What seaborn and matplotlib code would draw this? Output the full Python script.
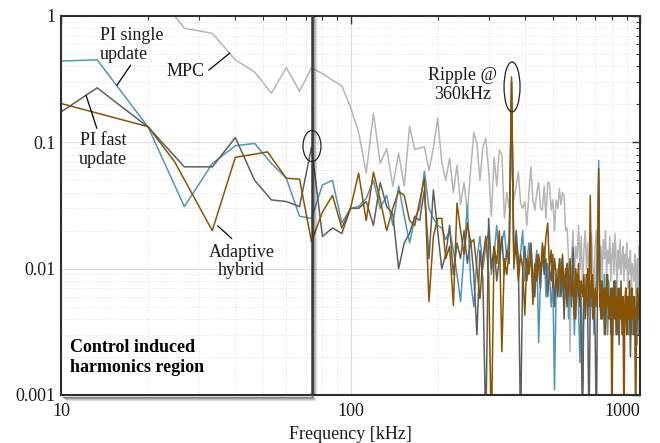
import numpy as np
import pandas as pd
import matplotlib
matplotlib.use("Agg")
import matplotlib.pyplot as plt
import seaborn as sns
from matplotlib.patches import Ellipse
from matplotlib.transforms import offset_copy
from matplotlib.ticker import LogLocator, NullFormatter

# ---------------- data ----------------
# low-frequency region (shared grid), kHz
freq_low = [10, 13.33, 20, 26.67, 33.33, 40, 46.67, 53.33, 60, 66.67, 73.33]
pi_single_low = [0.44, 0.45, 0.132, 0.031, 0.068, 0.094, 0.098, 0.068, 0.052, 0.026, 0.025]
pi_fast_low = [0.174, 0.27, 0.132, 0.064, 0.064, 0.109, 0.050, 0.035, 0.034, 0.031, 0.092]
mpc_low = [2.5, 2.2, 1.86, 0.80, 0.73, 0.45, 0.36, 0.245, 0.39, 0.254, 0.39]
hybrid_freq_low = [10, 20, 24.7, 33.3, 40, 51.7, 60, 66.7, 73.3]
hybrid_low = [0.203, 0.133, 0.070, 0.020, 0.076, 0.084, 0.052, 0.051, 0.0164]

# high-frequency region: harmonics k = 12 ... 150 of 6.667 kHz
harmonic_start = 12
harmonic_step = 20.0 / 3.0

pi_single_high = [
    0.046, 0.05, 0.023, 0.03, 0.031, 0.036, 0.05, 0.03, 0.038, 0.022,
    0.045, 0.026, 0.016, 0.025, 0.03, 0.059, 0.03, 0.025, 0.022, 0.021,
    0.017, 0.02, 0.014, 0.009, 0.0055, 0.013, 0.032, 0.008, 0.005, 0.012,
    0.018, 0.01, 0.015, 0.02, 0.009, 0.013, 0.022, 0.011, 0.016, 0.02,
    0.012, 0.018, 0.3, 0.012, 0.015, 0.009, 0.013, 0.02, 0.008, 0.011,
    0.016, 0.012, 0.007, 0.01, 0.014, 0.0026, 0.009, 0.012, 0.015, 0.006,
    0.011, 0.009, 0.005, 0.008, 0.0011, 0.007, 0.01, 0.006, 0.012, 0.008,
    0.005, 0.009, 0.011, 0.004, 0.008, 0.006, 0.01, 0.003, 0.007, 0.009,
    0.005, 0.0018, 0.006, 0.0012, 0.007, 0.005, 0.009, 0.004, 0.006, 0.008,
    0.005, 0.007, 0.003, 0.006, 0.008, 0.02, 0.072, 0.006, 0.004, 0.007,
    0.005, 0.009, 0.004, 0.006, 0.003, 0.008, 0.005, 0.004, 0.007, 0.003,
    0.006, 0.005, 0.008, 0.004, 0.006, 0.003, 0.007, 0.005, 0.004, 0.006,
    0.003, 0.005, 0.007, 0.004, 0.006, 0.003, 0.005, 0.004, 0.007, 0.003,
    0.005, 0.004, 0.006, 0.003, 0.005, 0.004, 0.006, 0.003, 0.01,
]

pi_fast_high = [
    0.018, 0.021, 0.019, 0.03, 0.03, 0.034, 0.022, 0.048, 0.031, 0.027,
    0.010, 0.016, 0.019, 0.026, 0.024, 0.042, 0.012, 0.042, 0.02, 0.010,
    0.013, 0.022, 0.009, 0.016, 0.012, 0.02, 0.011, 0.017, 0.009, 0.003,
    0.014, 0.008, 0.0005, 0.025, 0.01, 0.015, 0.008, 0.012, 0.018, 0.009,
    0.014, 0.011, 0.3, 0.01, 0.02, 0.012, 0.0005, 0.01, 0.015, 0.008,
    0.012, 0.016, 0.009, 0.006, 0.013, 0.01, 0.007, 0.014, 0.009, 0.012,
    0.006, 0.01, 0.008, 0.013, 0.005, 0.009, 0.007, 0.012, 0.006, 0.01,
    0.004, 0.008, 0.011, 0.006, 0.009, 0.005, 0.0147, 0.007, 0.004, 0.009,
    0.006, 0.008, 0.003, 0.0005, 0.007, 0.005, 0.009, 0.004, 0.0005, 0.006,
    0.008, 0.004, 0.006, 0.003, 0.0005, 0.007, 0.05, 0.005, 0.008, 0.004,
    0.006, 0.003, 0.007, 0.005, 0.009, 0.004, 0.006, 0.003, 0.007, 0.005,
    0.004, 0.008, 0.003, 0.006, 0.005, 0.0025, 0.007, 0.004, 0.006, 0.003,
    0.005, 0.004, 0.007, 0.003, 0.005, 0.004, 0.006, 0.002, 0.005, 0.004,
    0.006, 0.003, 0.005, 0.004, 0.0025, 0.005, 0.004, 0.006, 0.005,
]

mpc_high = [
    0.35, 0.31, 0.28, 0.19, 0.12, 0.057, 0.17, 0.068, 0.089, 0.045,
    0.082, 0.045, 0.134, 0.088, 0.09, 0.092, 0.06, 0.09, 0.155, 0.07,
    0.05, 0.075, 0.04, 0.066, 0.032, 0.048, 0.028, 0.06, 0.12, 0.098,
    0.05, 0.092, 0.108, 0.06, 0.026, 0.076, 0.045, 0.087, 0.08, 0.025,
    0.04, 0.03, 0.07, 0.035, 0.045, 0.058, 0.033, 0.03, 0.034, 0.022,
    0.04, 0.064, 0.035, 0.029, 0.04, 0.048, 0.03, 0.029, 0.045, 0.025,
    0.048, 0.048, 0.029, 0.035, 0.02, 0.035, 0.03, 0.043, 0.032, 0.04,
    0.038, 0.02, 0.021, 0.012, 0.0022, 0.012, 0.02, 0.009, 0.015, 0.012,
    0.022, 0.01, 0.018, 0.007, 0.014, 0.02, 0.01, 0.016, 0.008, 0.013,
    0.019, 0.011, 0.006, 0.015, 0.02, 0.012, 0.025, 0.01, 0.015, 0.008,
    0.017, 0.012, 0.02, 0.009, 0.014, 0.011, 0.018, 0.008, 0.013, 0.016,
    0.009, 0.019, 0.012, 0.007, 0.014, 0.01, 0.017, 0.009, 0.012, 0.015,
    0.008, 0.013, 0.01, 0.016, 0.007, 0.012, 0.009, 0.014, 0.006, 0.011,
    0.01, 0.008, 0.013, 0.006, 0.01, 0.012, 0.007, 0.015, 0.012,
]

hybrid_high = [
    0.028, 0.038, 0.021, 0.03, 0.057, 0.024, 0.058, 0.035, 0.020, 0.03,
    0.041, 0.038, 0.024, 0.022, 0.034, 0.052, 0.0055, 0.018, 0.025, 0.025,
    0.012, 0.015, 0.0051, 0.033, 0.02, 0.013, 0.023, 0.016, 0.017, 0.01,
    0.0058, 0.012, 0.018, 0.009, 0.0005, 0.015, 0.011, 0.02, 0.0022, 0.012,
    0.009, 0.014, 0.33, 0.011, 0.016, 0.008, 0.013, 0.01, 0.0043, 0.012,
    0.009, 0.014, 0.0052, 0.011, 0.008, 0.013, 0.009, 0.016, 0.011, 0.018,
    0.023, 0.01, 0.014, 0.007, 0.012, 0.009, 0.006, 0.011, 0.008, 0.013,
    0.007, 0.01, 0.005, 0.009, 0.012, 0.006, 0.008, 0.004, 0.01, 0.007,
    0.011, 0.005, 0.008, 0.006, 0.009, 0.004, 0.007, 0.01, 0.005, 0.038,
    0.006, 0.009, 0.004, 0.007, 0.005, 0.008, 0.062, 0.006, 0.004, 0.008,
    0.005, 0.007, 0.003, 0.009, 0.005, 0.006, 0.004, 0.007, 0.0005, 0.006,
    0.008, 0.004, 0.006, 0.003, 0.007, 0.005, 0.004, 0.008, 0.003, 0.006,
    0.0005, 0.005, 0.007, 0.003, 0.006, 0.004, 0.008, 0.003, 0.005, 0.007,
    0.004, 0.006, 0.003, 0.0005, 0.005, 0.007, 0.004, 0.006, 0.008,
]

series_names = ["MPC", "PI single update", "PI fast update", "Adaptive hybrid"]
series_colors = ["#b5b5b5", "#4f97ba", "#5e5e5e", "#8a5300"]


def high_freqs(vals):
    return list(harmonic_step * np.arange(harmonic_start, harmonic_start + len(vals)))


rows = []
for name, fl, lo, hi in [
    ("MPC", freq_low, mpc_low, mpc_high),
    ("PI single update", freq_low, pi_single_low, pi_single_high),
    ("PI fast update", freq_low, pi_fast_low, pi_fast_high),
    ("Adaptive hybrid", hybrid_freq_low, hybrid_low, hybrid_high),
]:
    for f, v in zip(list(fl) + high_freqs(hi), list(lo) + list(hi)):
        rows.append({"series": name, "freq": f, "mag": v})
df = pd.DataFrame(rows)

# ---------------- style ----------------
sns.set_theme(style="white")
plt.rcParams["font.family"] = ["Liberation Serif", "DejaVu Serif"]
plt.rcParams["font.size"] = 13

fig = plt.figure(figsize=(6.6, 4.43), dpi=100)
ax = fig.add_axes([61 / 660, 1 - 395 / 443, 579 / 660, 379 / 443])
ax.set_xscale("log")
ax.set_yscale("log")

sns.lineplot(
    data=df, x="freq", y="mag", hue="series", hue_order=series_names,
    palette=dict(zip(series_names, series_colors)), estimator=None,
    sort=True, lw=1.1, legend=False, ax=ax,
)

ax.set_xlim(10, 1000)
ax.set_ylim(0.001, 1)

ax.set_xticks([10, 100, 1000])
ax.set_xticklabels(["10", "100", "1000"])
ax.set_yticks([0.001, 0.01, 0.1, 1])
ax.set_yticklabels(["0.001", "0.01", "0.1", "1"])
ax.xaxis.set_minor_locator(LogLocator(base=10, subs=np.arange(2, 10)))
ax.yaxis.set_minor_locator(LogLocator(base=10, subs=np.arange(2, 10)))
ax.xaxis.set_minor_formatter(NullFormatter())
ax.yaxis.set_minor_formatter(NullFormatter())
ax.xaxis.get_majorticklabels()[-1].set_horizontalalignment("right")

ax.tick_params(which="both", direction="in", top=True, right=True,
               colors="#333333", labelcolor="#1a1a1a", labelsize=13)
ax.tick_params(which="major", length=6, width=1)
ax.tick_params(which="minor", length=3, width=0.8)
ax.tick_params(axis="x", pad=6)
ax.tick_params(axis="y", pad=4)

ax.grid(which="major", color="#dedede", lw=0.8, ls="-")
ax.grid(which="minor", color="#d2d2d2", lw=0.6, ls=(0, (1, 2.5)))
ax.set_axisbelow(True)
for s in ax.spines.values():
    s.set_color("#2e2e2e")
    s.set_linewidth(1.5)

ax.set_xlabel("Frequency [kHz]", fontsize=13, color="#1a1a1a", labelpad=4)
ax.set_ylabel("")

# ---------------- region box with shadow ----------------
box_right = 73.5
xt = ax.get_xaxis_transform()
for i, a in enumerate([0.45, 0.3, 0.18, 0.09]):
    tr = offset_copy(xt, fig=fig, x=1.5 + i, y=0, units="dots")
    ax.plot([box_right, box_right], [0, 1], transform=tr, color="black",
            alpha=a, lw=1.0, clip_on=False, zorder=5)
bt = ax.transAxes
xf = np.log10(box_right / 10) / 2
for i, a in enumerate([0.45, 0.3, 0.18, 0.09]):
    tr = offset_copy(bt, fig=fig, x=1.5 + i, y=-(1.5 + i), units="dots")
    ax.plot([0.0, xf], [0, 0], transform=tr, color="black", alpha=a,
            lw=1.0, clip_on=False, zorder=5)
ax.plot([box_right, box_right], [0, 1], transform=xt, color="#3a3a3a",
        lw=1.8, clip_on=False, zorder=6)

ax.text(0.016, 0.099, "Control induced\nharmonics region", transform=ax.transAxes,
        fontsize=13, fontweight="bold", ha="left", va="center",
        linespacing=1.2, color="black", zorder=7)

# ---------------- annotations ----------------
ann = dict(fontsize=13, color="#1a1a1a", linespacing=1.15, zorder=7)
ax.text(13.6, 0.589, "PI single\nupdate", ha="left", va="center", **ann)
ax.text(27.0, 0.366, "MPC", ha="center", va="center", **ann)
ax.text(13.96, 0.0866, "PI fast\nupdate", ha="center", va="center", **ann)
ax.text(42.1, 0.0114, "Adaptive\nhybrid", ha="center", va="center", **ann)
ax.text(243, 0.283, "Ripple @\n360kHz", ha="center", va="center", **ann)

lp = dict(arrowstyle="-", color="black", lw=0.9, shrinkA=0, shrinkB=0)
ax.annotate("", xy=(15.6, 0.283), xytext=(17.4, 0.408), arrowprops=lp)
ax.annotate("", xy=(38.3, 0.509), xytext=(32.4, 0.373), arrowprops=lp)
ax.annotate("", xy=(12.2, 0.236), xytext=(13.3, 0.129), arrowprops=lp)
ax.annotate("", xy=(34.8, 0.0218), xytext=(38.9, 0.0173), arrowprops=lp)

ax.add_patch(Ellipse((0.779, 0.8127), 0.0276, 0.132, transform=ax.transAxes,
                     fill=False, edgecolor="#222222", lw=0.9, zorder=7))
ax.add_patch(Ellipse((0.4335, 0.657), 0.031, 0.082, transform=ax.transAxes,
                     fill=False, edgecolor="#222222", lw=0.9, zorder=7))

fig.savefig("out.png", dpi=100)
